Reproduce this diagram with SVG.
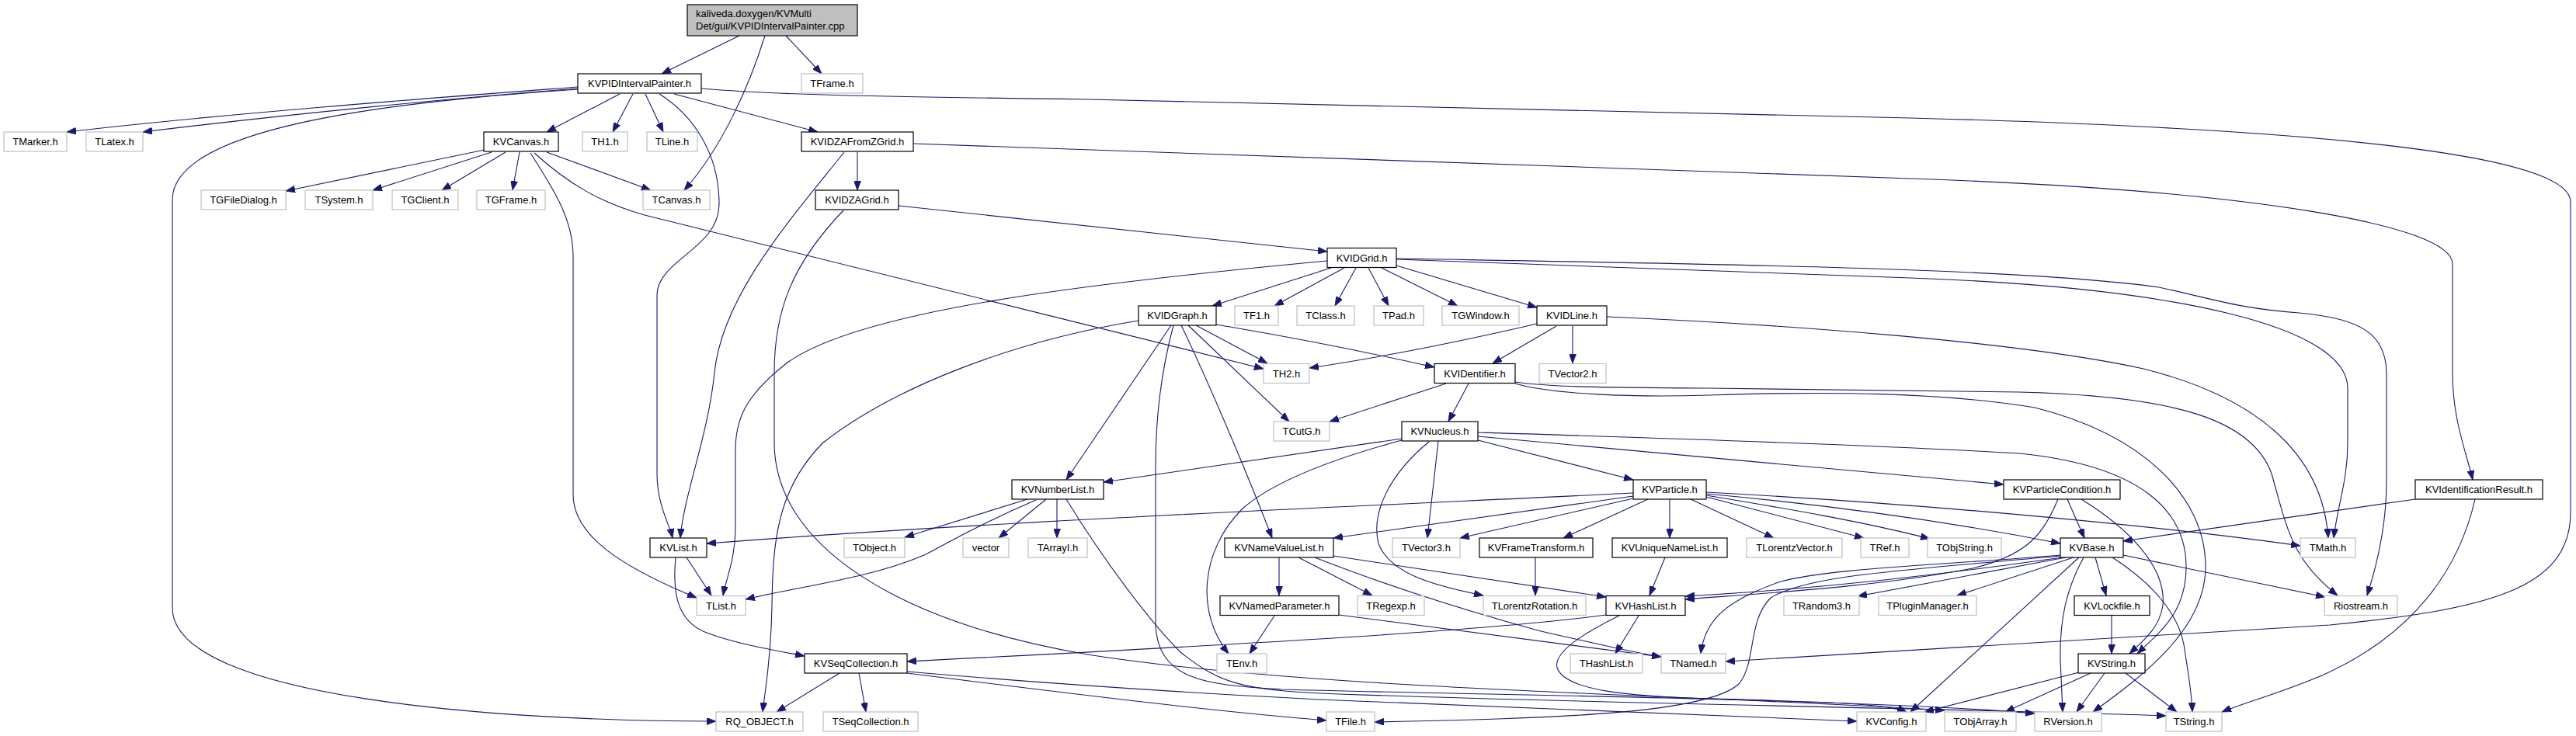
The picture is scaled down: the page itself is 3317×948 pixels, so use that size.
<svg xmlns="http://www.w3.org/2000/svg" width="3317" height="948" viewBox="0 0 3317 948">
<defs>
<style>
.n rect{fill:#fff;stroke:#000;stroke-width:1.2}
.u rect{fill:#fff;stroke:#bfbfbf;stroke-width:1.2}
.r rect{fill:#bfbfbf;stroke:#000;stroke-width:1.2}
text{font-family:"Liberation Sans",Arial,sans-serif;font-size:13px;fill:#000;text-anchor:middle}
.r text{text-anchor:start}
.e path{fill:none;stroke:#191970;stroke-width:1.1;marker-end:url(#a)}
</style>
<marker id="a" viewBox="0 0 12 9" refX="12" refY="4.5" markerWidth="12" markerHeight="9" markerUnits="userSpaceOnUse" orient="auto"><path d="M0,0 L12,4.5 L0,9 z" fill="#191970" stroke="#191970" stroke-width="0.8"/></marker>
</defs>
<rect width="3317" height="948" fill="#fff"/>
<g id="edges" class="e">
<path d="M952,46 L852,95"/>
<path d="M985,46 C965,110 930,190 881,245"/>
<path d="M1012,46 L1058,95"/>
<path d="M744,112 C600,123 300,145 86,170"/>
<path d="M744,114 C600,125 380,146 184,170"/>
<path d="M744,115 C560,128 222,155 222,257 L222,783 C222,900 650,929 922,929"/>
<path d="M798,121 L704,170"/>
<path d="M815,121 L789,170"/>
<path d="M831,121 L854,170"/>
<path d="M849,121 C895,150 926,200 926,263 C926,320 846,335 846,380 L846,610 C846,650 862,675 866,693"/>
<path d="M868,121 L1053,170"/>
<path d="M903,114 C1000,122 1100,124 1400,128 L2460,152 C2950,165 3310,195 3310,260 L3310,660 C3310,760 3200,785 3000,805 L2222,852"/>
<path d="M1104,196 L1104,245"/>
<path d="M1087,196 C1020,280 930,380 920,480 C912,560 880,640 876,693"/>
<path d="M1176,185 C1400,190 1900,208 2460,230 C2900,245 3158,290 3158,340 L3158,480 C3158,540 3175,580 3184,618"/>
<path d="M1157,265 L1709,324"/>
<path d="M1086,271 C1020,340 997,400 997,480 L997,570 C997,700 1150,800 1400,843 C1700,890 2200,895 2504,915"/>
<path d="M1714,345 L1561,394"/>
<path d="M1731,345 L1641,394"/>
<path d="M1746,345 L1719,394"/>
<path d="M1762,345 L1788,394"/>
<path d="M1779,345 L1877,394"/>
<path d="M1798,342 L1979,396"/>
<path d="M1709,336 C1400,365 1100,400 1010,470 C960,510 947,540 947,580 L947,680 C947,720 935,745 931,767"/>
<path d="M1466,413 C1300,440 1150,500 1060,570 C1000,630 995,700 994,780 C993,850 985,890 982,917"/>
<path d="M1508,419 L1373,618"/>
<path d="M1511,419 C1500,460 1488,520 1488,600 L1488,800 C1488,880 1560,882 1650,888 C1900,895 2400,900 2620,919"/>
<path d="M1521,419 C1560,500 1610,620 1638,693"/>
<path d="M1530,419 L1660,543"/>
<path d="M1540,419 L1632,468"/>
<path d="M1566,418 C1600,424 1700,440 1847,473"/>
<path d="M624,193 L368,246"/>
<path d="M633,196 L480,245"/>
<path d="M651,196 L569,245"/>
<path d="M669,196 L660,245"/>
<path d="M683,197 C710,240 738,280 738,330 L738,637 C738,690 800,730 897,770"/>
<path d="M688,197 C730,235 770,260 830,277 L1627,475"/>
<path d="M704,196 L838,245"/>
<path d="M1979,417 C1880,440 1780,460 1686,474"/>
<path d="M2004,420 L1922,468"/>
<path d="M2025,420 L2025,468"/>
<path d="M2069,408 C2300,418 2600,440 2760,475 C2900,510 2990,580 2998,693"/>
<path d="M1891,494 L1865,543"/>
<path d="M1862,494 L1712,543"/>
<path d="M1951,492 C1990,498 2050,499 2200,500 L2600,505 C2800,510 2900,540 2925,610 C2945,680 2950,720 3010,767"/>
<path d="M1951,494 C2000,508 2100,512 2200,509 C2350,504 2500,505 2620,525 C2760,560 2840,640 2840,730 C2840,810 2760,870 2695,917"/>
<path d="M1805,565 L1421,621"/>
<path d="M1805,567 C1720,590 1640,620 1600,655 C1545,710 1540,790 1582,842"/>
<path d="M1852,568 L1838,693"/>
<path d="M1840,569 C1790,610 1765,660 1775,700 C1790,740 1850,755 1910,767"/>
<path d="M1903,567 L2103,618"/>
<path d="M1903,562 C2100,580 2400,608 2580,624"/>
<path d="M1903,557 C2100,563 2400,572 2600,584 C2760,600 2815,660 2815,730 C2815,790 2780,815 2752,842"/>
<path d="M2103,635 C1800,650 1300,670 910,700"/>
<path d="M2103,639 L1717,693"/>
<path d="M2103,642 L1880,693"/>
<path d="M2122,643 L2013,693"/>
<path d="M2150,643 L2150,693"/>
<path d="M2177,643 L2284,693"/>
<path d="M2197,640 L2400,693"/>
<path d="M2197,638 C2300,655 2400,672 2485,694"/>
<path d="M2197,636 C2350,650 2500,670 2653,700"/>
<path d="M2197,634 C2500,650 2800,680 2962,703"/>
<path d="M1977,718 L1977,767"/>
<path d="M2144,718 L2124,767"/>
<path d="M1647,718 L1647,767"/>
<path d="M1672,718 L1767,767"/>
<path d="M1693,718 C1800,760 1900,790 1984,813 C2060,830 2100,840 2139,846"/>
<path d="M1717,716 L2068,769"/>
<path d="M1641,793 L1609,842"/>
<path d="M1724,792 L2139,846"/>
<path d="M2068,792 C1900,815 1500,835 1168,852"/>
<path d="M2110,793 L2080,842"/>
<path d="M2085,793 C2040,815 2000,840 2005,860 C2015,890 2100,897 2200,900 C2350,904 2430,906 2455,917"/>
<path d="M884,718 L916,767"/>
<path d="M870,718 C866,760 870,800 910,815 C950,830 1000,838 1036,845"/>
<path d="M1081,867 L1000,917"/>
<path d="M1106,867 L1115,917"/>
<path d="M1168,865 C1400,885 1650,900 1800,905 C2000,912 2200,920 2391,929"/>
<path d="M1168,867 C1350,890 1550,915 1708,928"/>
<path d="M1323,643 L1165,692"/>
<path d="M1334,644 C1250,680 1220,700 1190,715 C1120,745 1030,755 960,772"/>
<path d="M1347,643 L1286,693"/>
<path d="M1361,643 L1361,693"/>
<path d="M1373,643 C1420,720 1480,800 1520,840 C1570,880 1600,888 1700,893 C2000,905 2500,912 2789,922"/>
<path d="M2662,643 L2684,693"/>
<path d="M2680,643 C2740,680 2790,730 2785,780 C2780,810 2760,825 2742,842"/>
<path d="M2650,643 C2630,690 2610,715 2540,732 C2420,755 2300,762 2170,772"/>
<path d="M2653,715 C2500,728 2350,732 2290,750 C2220,775 2195,800 2190,842"/>
<path d="M2653,716 C2450,735 2330,740 2280,770 C2250,800 2262,850 2240,880 C2200,920 2000,925 1770,930"/>
<path d="M2655,718 C2500,740 2350,758 2170,768"/>
<path d="M2660,718 L2392,768"/>
<path d="M2670,718 L2520,767"/>
<path d="M2698,718 L2712,767"/>
<path d="M2677,718 L2460,917"/>
<path d="M2683,718 C2660,760 2652,800 2653,850 L2656,917"/>
<path d="M2720,718 C2770,750 2805,790 2812,830 C2818,870 2822,890 2823,917"/>
<path d="M2734,715 L2994,769"/>
<path d="M3110,643 L2734,697"/>
<path d="M3187,643 C3160,760 3080,830 2990,870 C2930,895 2890,905 2861,917"/>
<path d="M2719,793 L2719,842"/>
<path d="M2677,866 L2478,917"/>
<path d="M2692,867 L2582,917"/>
<path d="M2710,867 L2674,917"/>
<path d="M2737,867 L2803,917"/>
<path d="M1798,334 C2100,345 2300,352 2460,358 C2800,370 3023,420 3023,500 L3023,570 C3023,620 3010,650 3005,693"/>
<path d="M1798,333 C2200,340 2600,345 2780,370 C2850,385 2880,397 2960,403 C3040,410 3072,430 3073,480 L3073,620 C3073,680 3060,730 3048,767"/>
</g>
<g id="root" class="r"><rect x="885" y="6" width="219" height="40"/><text x="896" y="22">kaliveda.doxygen/KVMulti</text><text x="896" y="38">Det/gui/KVPIDIntervalPainter.cpp</text></g>
<g id="KVPIDIntervalPainter_h" class="n"><rect x="744" y="95" width="159" height="25"/><text x="823.5" y="112">KVPIDIntervalPainter.h</text></g>
<g id="TFrame_h" class="u"><rect x="1032" y="95" width="79" height="25"/><text x="1071.5" y="112">TFrame.h</text></g>
<g id="TMarker_h" class="u"><rect x="5" y="170" width="81" height="25"/><text x="45.5" y="187">TMarker.h</text></g>
<g id="TLatex_h" class="u"><rect x="111" y="170" width="73" height="25"/><text x="147.5" y="187">TLatex.h</text></g>
<g id="KVCanvas_h" class="n"><rect x="623" y="170" width="96" height="25"/><text x="671" y="187">KVCanvas.h</text></g>
<g id="TH1_h" class="u"><rect x="750" y="170" width="58" height="25"/><text x="779" y="187">TH1.h</text></g>
<g id="TLine_h" class="u"><rect x="833" y="170" width="65" height="25"/><text x="865.5" y="187">TLine.h</text></g>
<g id="KVIDZAFromZGrid_h" class="n"><rect x="1032" y="170" width="144" height="25"/><text x="1104" y="187">KVIDZAFromZGrid.h</text></g>
<g id="TGFileDialog_h" class="u"><rect x="259" y="245" width="109" height="25"/><text x="313.5" y="262">TGFileDialog.h</text></g>
<g id="TSystem_h" class="u"><rect x="393" y="245" width="87" height="25"/><text x="436.5" y="262">TSystem.h</text></g>
<g id="TGClient_h" class="u"><rect x="505" y="245" width="85" height="25"/><text x="547.5" y="262">TGClient.h</text></g>
<g id="TGFrame_h" class="u"><rect x="614" y="245" width="88" height="25"/><text x="658" y="262">TGFrame.h</text></g>
<g id="TCanvas_h" class="u"><rect x="828" y="245" width="86" height="25"/><text x="871" y="262">TCanvas.h</text></g>
<g id="KVIDZAGrid_h" class="n"><rect x="1050" y="245" width="107" height="25"/><text x="1103.5" y="262">KVIDZAGrid.h</text></g>
<g id="KVIDGrid_h" class="n"><rect x="1709" y="319.5" width="89" height="25"/><text x="1753.5" y="336.5">KVIDGrid.h</text></g>
<g id="KVIDGraph_h" class="n"><rect x="1466" y="394" width="100" height="25"/><text x="1516" y="411">KVIDGraph.h</text></g>
<g id="TF1_h" class="u"><rect x="1590" y="394" width="56" height="25"/><text x="1618" y="411">TF1.h</text></g>
<g id="TClass_h" class="u"><rect x="1670" y="394" width="74" height="25"/><text x="1707" y="411">TClass.h</text></g>
<g id="TPad_h" class="u"><rect x="1769" y="394" width="64" height="25"/><text x="1801" y="411">TPad.h</text></g>
<g id="TGWindow_h" class="u"><rect x="1857" y="394" width="99" height="25"/><text x="1906.5" y="411">TGWindow.h</text></g>
<g id="KVIDLine_h" class="n"><rect x="1979" y="394" width="90" height="25"/><text x="2024" y="411">KVIDLine.h</text></g>
<g id="TH2_h" class="u"><rect x="1627" y="468.5" width="59" height="25"/><text x="1656.5" y="485.5">TH2.h</text></g>
<g id="KVIDentifier_h" class="n"><rect x="1847" y="468.5" width="104" height="25"/><text x="1899" y="485.5">KVIDentifier.h</text></g>
<g id="TVector2_h" class="u"><rect x="1982" y="468.5" width="86" height="25"/><text x="2025" y="485.5">TVector2.h</text></g>
<g id="TCutG_h" class="u"><rect x="1640" y="543" width="72" height="25"/><text x="1676" y="560">TCutG.h</text></g>
<g id="KVNucleus_h" class="n"><rect x="1805" y="543" width="98" height="25"/><text x="1854" y="560">KVNucleus.h</text></g>
<g id="KVNumberList_h" class="n"><rect x="1303" y="618" width="118" height="25"/><text x="1362" y="635">KVNumberList.h</text></g>
<g id="KVParticle_h" class="n"><rect x="2103" y="618" width="94" height="25"/><text x="2150" y="635">KVParticle.h</text></g>
<g id="KVParticleCondition_h" class="n"><rect x="2580" y="618" width="150" height="25"/><text x="2655" y="635">KVParticleCondition.h</text></g>
<g id="KVIdentificationResult_h" class="n"><rect x="3110" y="618" width="164" height="25"/><text x="3192" y="635">KVIdentificationResult.h</text></g>
<g id="KVList_h" class="n"><rect x="837" y="693" width="73" height="25"/><text x="873.5" y="710">KVList.h</text></g>
<g id="TObject_h" class="u"><rect x="1087" y="693" width="78" height="25"/><text x="1126" y="710">TObject.h</text></g>
<g id="vector" class="u"><rect x="1240" y="693" width="59" height="25"/><text x="1269.5" y="710">vector</text></g>
<g id="TArrayI_h" class="u"><rect x="1324" y="693" width="76" height="25"/><text x="1362" y="710">TArrayI.h</text></g>
<g id="KVNameValueList_h" class="n"><rect x="1577" y="693" width="140" height="25"/><text x="1647" y="710">KVNameValueList.h</text></g>
<g id="TVector3_h" class="u"><rect x="1793" y="693" width="87" height="25"/><text x="1836.5" y="710">TVector3.h</text></g>
<g id="KVFrameTransform_h" class="n"><rect x="1905" y="693" width="146" height="25"/><text x="1978" y="710">KVFrameTransform.h</text></g>
<g id="KVUniqueNameList_h" class="n"><rect x="2076" y="693" width="148" height="25"/><text x="2150" y="710">KVUniqueNameList.h</text></g>
<g id="TLorentzVector_h" class="u"><rect x="2249" y="693" width="123" height="25"/><text x="2310.5" y="710">TLorentzVector.h</text></g>
<g id="TRef_h" class="u"><rect x="2396" y="693" width="62" height="25"/><text x="2427" y="710">TRef.h</text></g>
<g id="TObjString_h" class="u"><rect x="2482" y="693" width="95" height="25"/><text x="2529.5" y="710">TObjString.h</text></g>
<g id="KVBase_h" class="n"><rect x="2653" y="693" width="81" height="25"/><text x="2693.5" y="710">KVBase.h</text></g>
<g id="TMath_h" class="u"><rect x="2962" y="693" width="71" height="25"/><text x="2997.5" y="710">TMath.h</text></g>
<g id="TList_h" class="u"><rect x="897" y="767.5" width="63" height="25"/><text x="928.5" y="784.5">TList.h</text></g>
<g id="KVNamedParameter_h" class="n"><rect x="1571" y="767.5" width="153" height="25"/><text x="1647.5" y="784.5">KVNamedParameter.h</text></g>
<g id="TRegexp_h" class="u"><rect x="1748" y="767.5" width="86" height="25"/><text x="1791" y="784.5">TRegexp.h</text></g>
<g id="TLorentzRotation_h" class="u"><rect x="1910" y="767.5" width="132" height="25"/><text x="1976" y="784.5">TLorentzRotation.h</text></g>
<g id="KVHashList_h" class="n"><rect x="2068" y="767.5" width="102" height="25"/><text x="2119" y="784.5">KVHashList.h</text></g>
<g id="TRandom3_h" class="u"><rect x="2297" y="767.5" width="97" height="25"/><text x="2345.5" y="784.5">TRandom3.h</text></g>
<g id="TPluginManager_h" class="u"><rect x="2419" y="767.5" width="126" height="25"/><text x="2482" y="784.5">TPluginManager.h</text></g>
<g id="KVLockfile_h" class="n"><rect x="2671" y="767.5" width="97" height="25"/><text x="2719.5" y="784.5">KVLockfile.h</text></g>
<g id="Riostream_h" class="u"><rect x="2993" y="767.5" width="94" height="25"/><text x="3040" y="784.5">Riostream.h</text></g>
<g id="KVSeqCollection_h" class="n"><rect x="1036" y="842" width="132" height="25"/><text x="1102" y="859">KVSeqCollection.h</text></g>
<g id="TEnv_h" class="u"><rect x="1567" y="842" width="64" height="25"/><text x="1599" y="859">TEnv.h</text></g>
<g id="THashList_h" class="u"><rect x="2022" y="842" width="93" height="25"/><text x="2068.5" y="859">THashList.h</text></g>
<g id="TNamed_h" class="u"><rect x="2139" y="842" width="83" height="25"/><text x="2180.5" y="859">TNamed.h</text></g>
<g id="KVString_h" class="n"><rect x="2676" y="842" width="86" height="25"/><text x="2719" y="859">KVString.h</text></g>
<g id="RQ_OBJECT_h" class="u"><rect x="922" y="917" width="112" height="25"/><text x="978" y="934">RQ_OBJECT.h</text></g>
<g id="TSeqCollection_h" class="u"><rect x="1060" y="917" width="122" height="25"/><text x="1121" y="934">TSeqCollection.h</text></g>
<g id="TFile_h" class="u"><rect x="1708" y="917" width="62" height="25"/><text x="1739" y="934">TFile.h</text></g>
<g id="KVConfig_h" class="u"><rect x="2391" y="917" width="89" height="25"/><text x="2435.5" y="934">KVConfig.h</text></g>
<g id="TObjArray_h" class="u"><rect x="2504" y="917" width="92" height="25"/><text x="2550" y="934">TObjArray.h</text></g>
<g id="RVersion_h" class="u"><rect x="2620" y="917" width="86" height="25"/><text x="2663" y="934">RVersion.h</text></g>
<g id="TString_h" class="u"><rect x="2789" y="917" width="72" height="25"/><text x="2825" y="934">TString.h</text></g>
</svg>
